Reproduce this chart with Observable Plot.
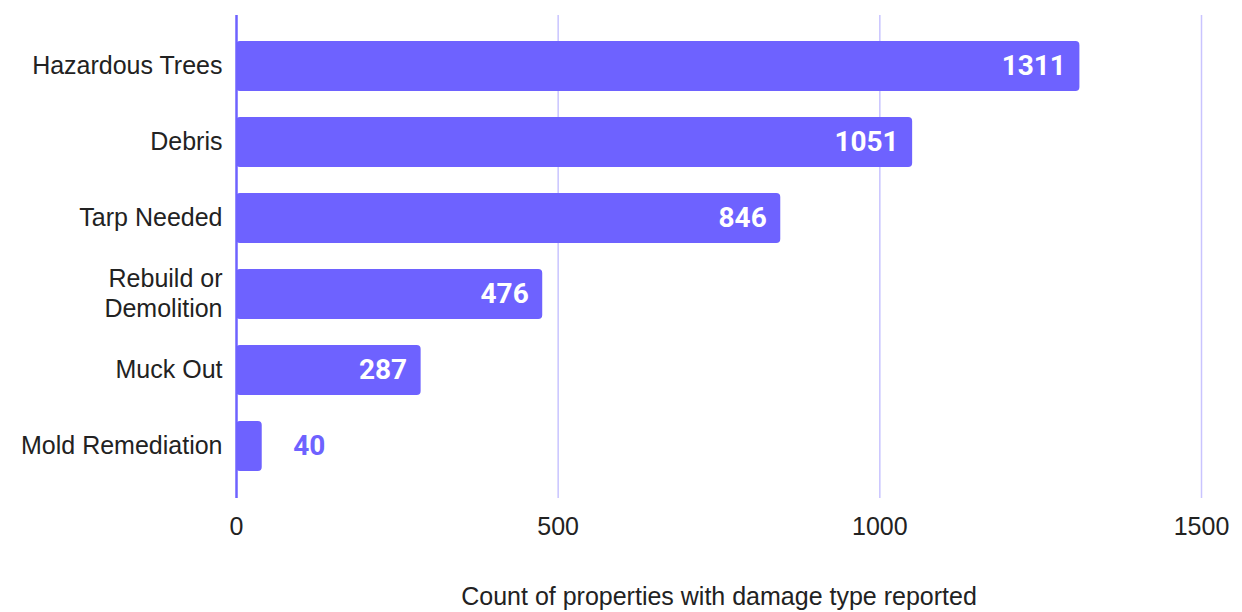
<!DOCTYPE html>
<html><head><meta charset="utf-8">
<script src="https://cdn.jsdelivr.net/npm/d3@7"></script>
<script src="https://cdn.jsdelivr.net/npm/@observablehq/plot@0.6"></script>
<style>body{margin:0;background:#fff;} #chart svg{display:block;}</style>
</head><body><div id="chart"></div>
<script>
const categories = ["Hazardous Trees","Debris","Tarp Needed","Rebuild or\nDemolition","Muck Out","Mold Remediation"];
const counts = [1311,1051,846,476,287,40];
const xTicks = [0,500,1000,1500];
const xLabel = "Count of properties with damage type reported";

const data = categories.map((c,i)=>({cat:c, n:counts[i]}));
const color = "#6E62FF";
const inside = data.filter(d=>d.n>=200);
const outside = data.filter(d=>d.n<200);
const FONT = "'Liberation Sans', Arial, sans-serif";

const chart = Plot.plot({
  width: 1242, height: 612,
  marginLeft: 236, marginRight: 41, marginTop: 15, marginBottom: 114,
  style: {fontFamily: FONT, fontSize: "25px", color:"#222", background:"#fff"},
  x: {domain:[0,1500], ticks: xTicks, label: null},
  y: {domain: categories, padding: 0.34, label: null},
  marks: [
    Plot.gridX(xTicks.filter(t=>t>0), {stroke:"#c9c4ff", strokeOpacity:1, strokeWidth:1.5}),
    Plot.barX(data, {y:"cat", x:"n", fill:color, rx:4}),
    Plot.ruleX([0], {stroke:color, strokeWidth:2.5}),
    Plot.text(inside, {y:"cat", x:"n", text:d=>String(d.n), textAnchor:"end", dx:-14, fill:"#fff", fontWeight:"bold", fontSize:28, fontFamily:"Roboto, sans-serif"}),
    Plot.text(outside, {y:"cat", x:"n", text:d=>String(d.n), textAnchor:"start", dx:31, fill:color, fontWeight:"bold", fontSize:28, fontFamily:"Roboto, sans-serif"}),
    Plot.axisX({ticks:xTicks, tickFormat:"d", tickSize:0, tickPadding:19, fontSize:25, fontFamily:FONT, label:null}),
    Plot.axisY({tickSize:0, tickPadding:14, fontSize:25, fontFamily:FONT, lineHeight:1.2, dy:-2, label:null}),
    Plot.text([xLabel], {frameAnchor:"bottom", dy:106, fontSize:25, fontFamily:FONT, fill:"#222"})
  ]
});
document.getElementById("chart").append(chart);
</script></body></html>
